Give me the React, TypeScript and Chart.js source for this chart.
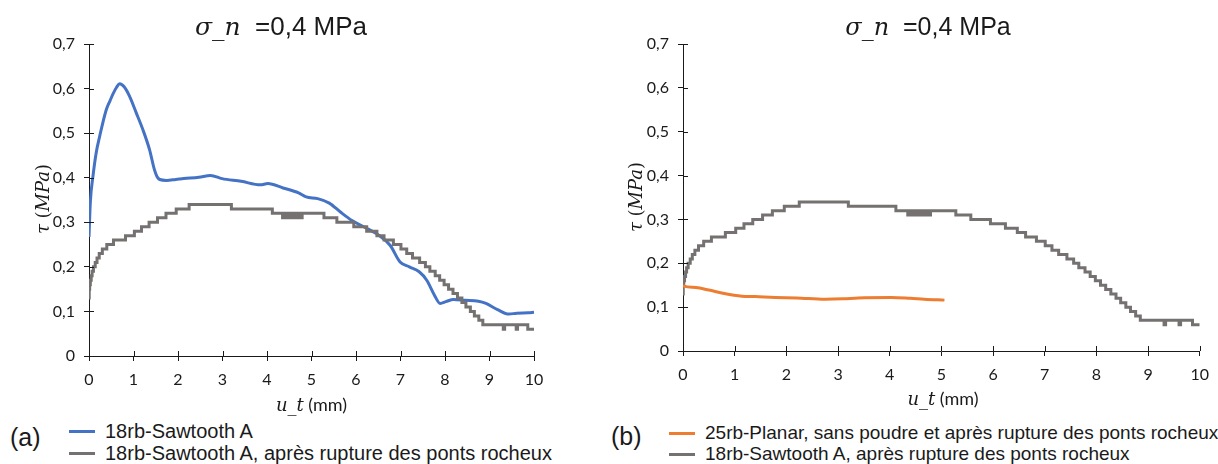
import React, { useEffect, useRef } from "react";
import { Chart, registerables } from "chart.js";

Chart.register(...registerables);

// ---------- data ----------
const xTickLabels = ["0", "1", "2", "3", "4", "5", "6", "7", "8", "9", "10"];
const yTickLabels = ["0", "0,1", "0,2", "0,3", "0,4", "0,5", "0,6", "0,7"];

const blueLabel = "18rb-Sawtooth A";
const grayLabel = "18rb-Sawtooth A, après rupture des ponts rocheux";
const orangeLabel = "25rb-Planar, sans poudre et après rupture des ponts rocheux";

// 18rb-Sawtooth A (u_t in mm, tau in MPa)
const blueX = [0, 0.03, 0.09, 0.16, 0.24, 0.32, 0.39, 0.47, 0.54, 0.62, 0.69, 0.79, 0.91, 1.06, 1.21, 1.36, 1.47, 1.53, 1.59, 1.74, 1.95, 2.13, 2.47, 2.73, 2.99, 3.42, 3.85, 4.02, 4.36, 4.71, 4.88, 5.14, 5.4, 5.65, 5.91, 6.17, 6.51, 6.77, 6.99, 7.2, 7.42, 7.59, 7.76, 7.89, 8.02, 8.19, 8.45, 8.75, 8.92, 9.18, 9.44, 9.61, 9.87, 10];
const blueY = [0.267, 0.345, 0.404, 0.455, 0.493, 0.527, 0.553, 0.572, 0.588, 0.603, 0.611, 0.604, 0.583, 0.546, 0.508, 0.463, 0.418, 0.402, 0.396, 0.394, 0.396, 0.398, 0.401, 0.405, 0.398, 0.392, 0.384, 0.387, 0.377, 0.366, 0.357, 0.353, 0.343, 0.323, 0.304, 0.29, 0.271, 0.248, 0.211, 0.2, 0.189, 0.17, 0.137, 0.118, 0.122, 0.127, 0.125, 0.123, 0.118, 0.104, 0.094, 0.096, 0.097, 0.098];

// 18rb-Sawtooth A, après rupture (step levels, each level starts at x)
const grayX = [0, 0.005, 0.015, 0.03, 0.05, 0.07, 0.1, 0.14, 0.18, 0.23, 0.3, 0.4, 0.55, 0.82, 1.02, 1.18, 1.35, 1.54, 1.73, 1.96, 2.25, 3.2, 4.12, 4.35, 4.39, 4.43, 4.47, 4.51, 4.55, 4.59, 4.63, 4.67, 4.71, 4.75, 4.79, 4.83, 5.28, 5.57, 5.95, 6.24, 6.47, 6.63, 6.84, 7.01, 7.14, 7.27, 7.43, 7.56, 7.66, 7.78, 7.88, 7.98, 8.08, 8.18, 8.28, 8.38, 8.47, 8.57, 8.66, 8.76, 8.85, 9.31, 9.34, 9.6, 9.63, 9.86, 10];
const grayY = [0.13, 0.15, 0.16, 0.17, 0.18, 0.19, 0.2, 0.21, 0.22, 0.23, 0.24, 0.25, 0.26, 0.27, 0.28, 0.29, 0.3, 0.31, 0.32, 0.33, 0.34, 0.33, 0.32, 0.31, 0.32, 0.31, 0.32, 0.31, 0.32, 0.31, 0.32, 0.31, 0.32, 0.31, 0.32, 0.32, 0.31, 0.3, 0.29, 0.28, 0.27, 0.26, 0.25, 0.24, 0.23, 0.22, 0.21, 0.2, 0.19, 0.18, 0.17, 0.16, 0.15, 0.14, 0.13, 0.12, 0.11, 0.1, 0.09, 0.08, 0.07, 0.06, 0.07, 0.06, 0.07, 0.06, 0.06];

// 25rb-Planar
const orangeX = [0, 0.02, 0.25, 0.5, 0.8, 1.14, 1.4, 1.78, 2.2, 2.75, 3.1, 3.39, 4.03, 4.4, 4.67, 5.06];
const orangeY = [0.15, 0.148, 0.145, 0.139, 0.131, 0.125, 0.124, 0.122, 0.121, 0.118, 0.119, 0.121, 0.122, 0.12, 0.118, 0.116];

// ---------- style ----------
const BLUE = "#4472C4";
const GRAY = "#767171";
const ORANGE = "#ED7D31";
const AXIS = "#1a1a1a";
const TEXT = "#1a1a1a";
const Y_W = 40;
const X_H = 30;
const TICK = 5;

type Seg = { t: string; f: string };
type Label = { x: number; y: number; rot?: boolean; segs: Seg[] };
type Area = { left: number; right: number; top: number; bottom: number };

const pts = (xs: number[], ys: number[]) => xs.map((x, i) => ({ x, y: ys[i] }));

const crossTicks = {
  id: "crossTicks",
  afterDraw(chart: any) {
    const { ctx, chartArea, scales } = chart;
    ctx.save();
    ctx.strokeStyle = AXIS;
    ctx.lineWidth = 1;
    ctx.beginPath();
    scales.x.ticks.forEach((t: any) => {
      const px = Math.round(scales.x.getPixelForValue(t.value)) + 0.5;
      ctx.moveTo(px, chartArea.bottom);
      ctx.lineTo(px, chartArea.bottom - TICK);
    });
    scales.y.ticks.forEach((t: any) => {
      const py = Math.round(scales.y.getPixelForValue(t.value)) + 0.5;
      ctx.moveTo(chartArea.left, py);
      ctx.lineTo(chartArea.left + TICK, py);
    });
    ctx.stroke();
    ctx.restore();
  },
};

function labelsPlugin(labels: Label[]) {
  return {
    id: "mixedLabels",
    afterDraw(chart: any) {
      const ctx = chart.ctx;
      labels.forEach((l) => {
        ctx.save();
        ctx.translate(l.x, l.y);
        if (l.rot) ctx.rotate(-Math.PI / 2);
        ctx.fillStyle = TEXT;
        ctx.textBaseline = "alphabetic";
        ctx.textAlign = "left";
        let total = 0;
        const widths = l.segs.map((s) => {
          ctx.font = s.f;
          const w = ctx.measureText(s.t).width;
          total += w;
          return w;
        });
        let x = -total / 2;
        l.segs.forEach((s, i) => {
          ctx.font = s.f;
          ctx.fillText(s.t, x, 0);
          x += widths[i];
        });
        ctx.restore();
      });
    },
  };
}

const tickFont = { family: "Lato", size: 16 };

function ChartPanel(props: { w: number; h: number; left: number; area: Area; datasets: any[]; labels: Label[] }) {
  const ref = useRef<HTMLCanvasElement>(null);
  const { w, h, left, area, datasets, labels } = props;
  useEffect(() => {
    const chart = new Chart(ref.current as HTMLCanvasElement, {
      type: "line",
      data: { datasets },
      plugins: [crossTicks, labelsPlugin(labels)],
      options: {
        responsive: false,
        animation: false,
        events: [],
        layout: {
          padding: {
            left: area.left - Y_W,
            right: w - area.right,
            top: area.top,
            bottom: h - area.bottom - X_H,
          },
        },
        plugins: { legend: { display: false }, title: { display: false }, tooltip: { enabled: false } },
        scales: {
          x: {
            type: "linear",
            min: 0,
            max: 10,
            ticks: {
              stepSize: 1,
              autoSkip: false,
              maxRotation: 0,
              padding: 9,
              color: TEXT,
              font: tickFont,
              callback: (v: any) => xTickLabels[Math.round(Number(v))],
            },
            grid: { display: true, drawOnChartArea: false, drawTicks: true, tickLength: TICK, color: AXIS, lineWidth: 1 },
            border: { display: true, color: AXIS, width: 1 },
            afterFit: (s: any) => {
              s.height = X_H;
            },
          },
          y: {
            type: "linear",
            min: 0,
            max: 0.7,
            ticks: {
              stepSize: 0.1,
              autoSkip: false,
              padding: 9,
              color: TEXT,
              font: tickFont,
              callback: (v: any) => yTickLabels[Math.round(Number(v) * 10)],
            },
            grid: { display: true, drawOnChartArea: false, drawTicks: true, tickLength: TICK, color: AXIS, lineWidth: 1 },
            border: { display: true, color: AXIS, width: 1 },
            afterFit: (s: any) => {
              s.width = Y_W;
            },
          },
        },
      } as any,
    });
    return () => chart.destroy();
  }, []);
  return <canvas ref={ref} width={w} height={h} style={{ position: "absolute", left, top: 0, width: w, height: h }} />;
}

function Legend(props: { tag: string; tagLeft: number; tagTop: number; tagSize: number; left: number; rows: number[]; size: number; items: { label: string; color: string }[]; swatchShift: number }) {
  const { tag, tagLeft, tagTop, tagSize, left, rows, size, items, swatchShift } = props;
  return (
    <>
      <div style={{ position: "absolute", left: tagLeft, top: tagTop, font: `${tagSize}px "Liberation Sans"`, lineHeight: "26px", color: TEXT, whiteSpace: "nowrap" }}>{tag}</div>
      {items.map((it, i) => (
        <div key={i} style={{ position: "absolute", left, top: rows[i], height: 22, lineHeight: "22px", display: "flex", alignItems: "center", font: `${size}px "Liberation Sans"`, color: TEXT, whiteSpace: "nowrap" }}>
          <span style={{ display: "inline-block", width: 26, height: 3, background: it.color, marginRight: 10, position: "relative", top: swatchShift }} />
          <span>{it.label}</span>
        </div>
      ))}
    </>
  );
}

const titleSegs = (size: number): Seg[] => [
  { t: "σ_n", f: `italic ${size}px "DejaVu Serif"` },
  { t: "  =0,4 MPa", f: `${size + 1}px "Liberation Sans"` },
];
const xTitleSegs: Seg[] = [
  { t: "u_t", f: 'italic 18px "DejaVu Serif"' },
  { t: " (mm)", f: '18px "Lato"' },
];
const yTitleSegs: Seg[] = [
  { t: "τ ", f: 'italic 18px "DejaVu Serif"' },
  { t: "(", f: '18px "DejaVu Serif"' },
  { t: "MPa", f: 'italic 18px "DejaVu Serif"' },
  { t: ")", f: '18px "DejaVu Serif"' },
];

export default function App() {
  const leftArea: Area = { left: 89, right: 534, top: 44, bottom: 356 };
  const rightArea: Area = { left: 88, right: 608, top: 44, bottom: 351 };
  const H = 420;
  const leftDatasets = [
    { label: blueLabel, data: pts(blueX, blueY), borderColor: BLUE, borderWidth: 3, pointRadius: 0, cubicInterpolationMode: "monotone", order: 1 },
    { label: grayLabel, data: pts(grayX, grayY), borderColor: GRAY, borderWidth: 3, pointRadius: 0, stepped: true, borderJoinStyle: "miter", order: 0 },
  ];
  const rightDatasets = [
    { label: orangeLabel, data: pts(orangeX, orangeY), borderColor: ORANGE, borderWidth: 3, pointRadius: 0, cubicInterpolationMode: "monotone", order: 0 },
    { label: grayLabel, data: pts(grayX, grayY), borderColor: GRAY, borderWidth: 3, pointRadius: 0, stepped: true, borderJoinStyle: "miter", order: 1 },
  ];
  const leftLabels: Label[] = [
    { x: 281, y: 35, segs: titleSegs(25) },
    { x: (leftArea.left + leftArea.right) / 2, y: 411, segs: xTitleSegs },
    { x: 49, y: 199, rot: true, segs: yTitleSegs },
  ];
  const rightLabels: Label[] = [
    { x: 333, y: 35, segs: titleSegs(24) },
    { x: (rightArea.left + rightArea.right) / 2, y: 405, segs: xTitleSegs },
    { x: 47, y: 197, rot: true, segs: yTitleSegs },
  ];
  return (
    <div style={{ position: "fixed", left: 0, top: 0, width: 1218, height: 464, background: "#fff", overflow: "hidden" }}>
      <ChartPanel w={580} h={H} left={0} area={leftArea} datasets={leftDatasets} labels={leftLabels} />
      <ChartPanel w={623} h={H} left={595} area={rightArea} datasets={rightDatasets} labels={rightLabels} />
      <Legend tag="(a)" tagLeft={10} tagTop={424} tagSize={25} left={69} rows={[420, 442]} size={20}
        items={[{ label: blueLabel, color: BLUE }, { label: grayLabel, color: GRAY }]} />
      <Legend tag="(b)" tagLeft={611} tagTop={423} tagSize={25} left={669} rows={[422, 443]} size={19}
        items={[{ label: orangeLabel, color: ORANGE }, { label: grayLabel, color: GRAY }]} />
    </div>
  );
}
